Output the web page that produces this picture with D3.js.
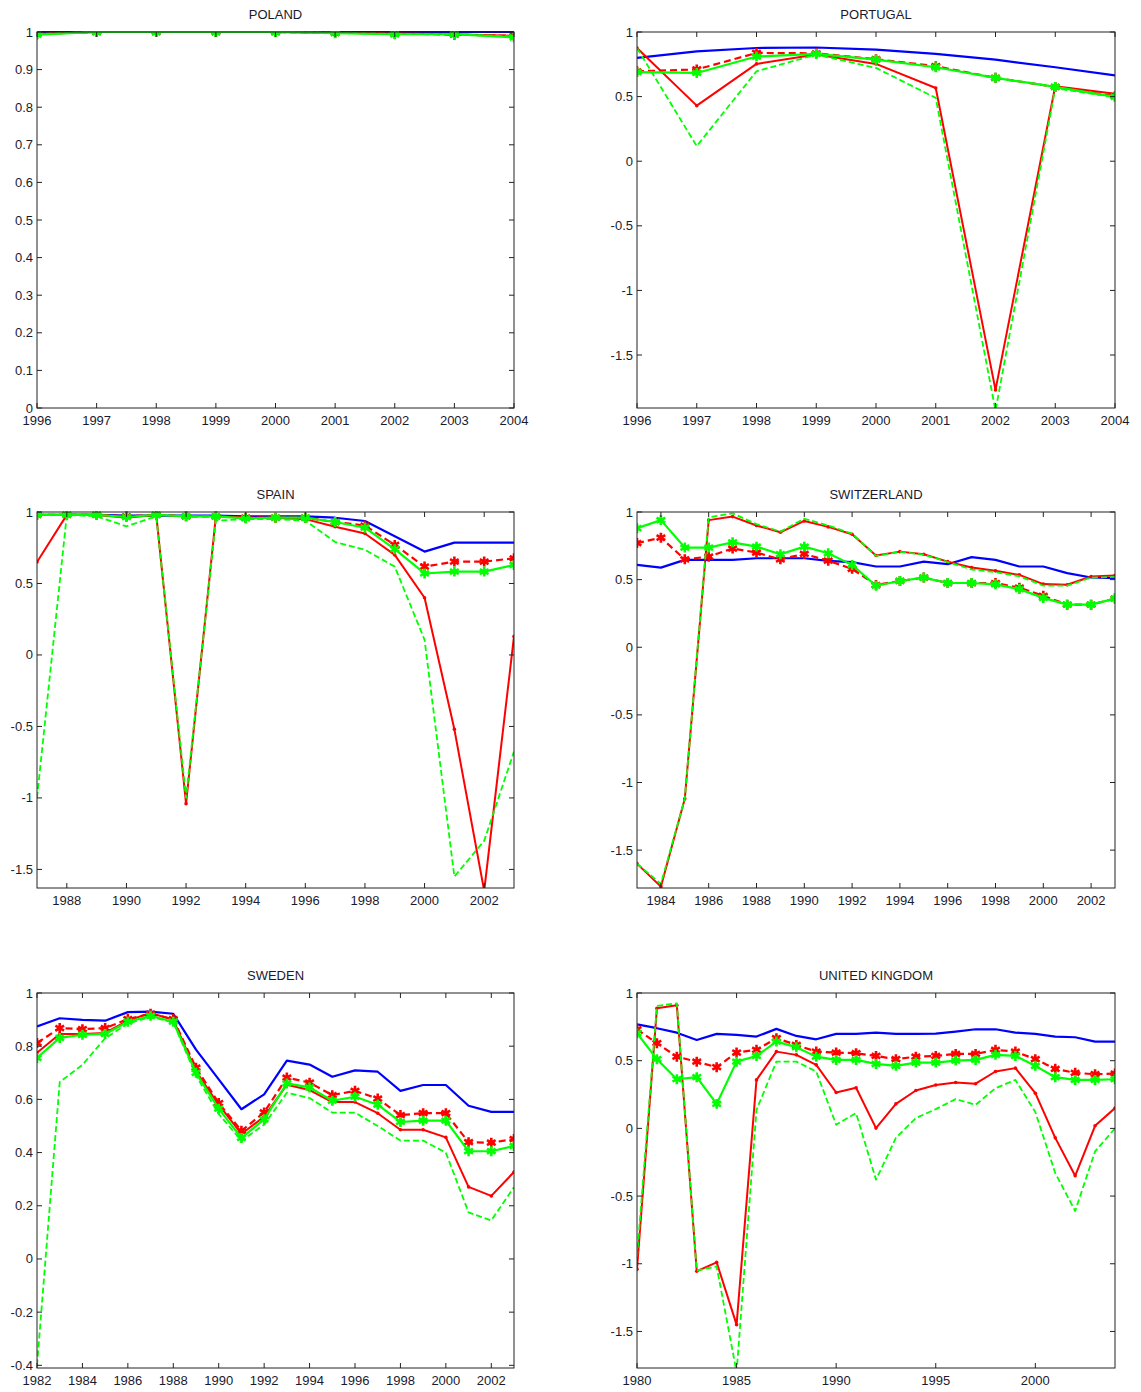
<!DOCTYPE html>
<html>
<head>
<meta charset="utf-8">
<script src="https://cdn.jsdelivr.net/npm/d3@7"></script>
<style>
  body { margin: 0; background: #fff; }
  svg { display: block; font-family: "Liberation Sans", Arial, sans-serif; }
</style>
</head>
<body>
<svg id="chart"></svg>
<script>
// ---- data ----
const polandYears = [1996, 1997, 1998, 1999, 2000, 2001, 2002, 2003, 2004];
const polandBlue = [1, 1, 1, 1, 1, 1, 1, 1, 1];
const polandRed = [0.995, 1, 1, 1, 1, 0.998, 0.996, 0.994, 0.99];
const polandRedStar = [0.995, 1, 1, 1, 1, 0.998, 0.996, 0.993, 0.99];
const polandGreenStar = [0.993, 1, 1, 1, 1, 0.997, 0.994, 0.994, 0.986];
const polandGreenDash = [0.995, 1, 1, 1, 1, 0.998, 0.995, 0.994, 0.988];
const polandYTicks = [0, 0.1, 0.2, 0.3, 0.4, 0.5, 0.6, 0.7, 0.8, 0.9, 1];
const polandXTicks = [1996, 1997, 1998, 1999, 2000, 2001, 2002, 2003, 2004];

const portugalYears = [1996, 1997, 1998, 1999, 2000, 2001, 2002, 2003, 2004];
const portugalBlue = [0.80, 0.85, 0.876, 0.88, 0.863, 0.83, 0.786, 0.727, 0.665];
const portugalRed = [0.876, 0.43, 0.753, 0.825, 0.753, 0.567, -1.77, 0.58, 0.523];
const portugalRedStar = [0.696, 0.71, 0.838, 0.835, 0.79, 0.735, 0.645, 0.575, 0.503];
const portugalGreenStar = [0.69, 0.683, 0.81, 0.83, 0.786, 0.727, 0.645, 0.575, 0.498];
const portugalGreenDash = [0.876, 0.117, 0.696, 0.825, 0.722, 0.49, -1.93, 0.565, 0.495];
const portugalYTicks = [-1.5, -1, -0.5, 0, 0.5, 1];
const portugalXTicks = [1996, 1997, 1998, 1999, 2000, 2001, 2002, 2003, 2004];

const spainYears = [1987, 1988, 1989, 1990, 1991, 1992, 1993, 1994, 1995, 1996, 1997, 1998, 1999, 2000, 2001, 2002, 2003];
const spainBlue = [0.98, 0.98, 0.98, 0.975, 0.975, 0.975, 0.975, 0.97, 0.97, 0.97, 0.96, 0.937, 0.83, 0.723, 0.786, 0.786, 0.786];
const spainRed = [0.65, 0.98, 0.98, 0.96, 0.98, -1.04, 0.97, 0.96, 0.96, 0.95, 0.897, 0.85, 0.70, 0.40, -0.52, -1.65, 0.13];
const spainRedStar = [0.98, 0.98, 0.98, 0.97, 0.98, 0.97, 0.97, 0.96, 0.96, 0.96, 0.93, 0.905, 0.77, 0.618, 0.653, 0.653, 0.676];
const spainGreenStar = [0.98, 0.98, 0.98, 0.965, 0.98, 0.97, 0.97, 0.955, 0.96, 0.96, 0.93, 0.89, 0.74, 0.57, 0.583, 0.583, 0.63];
const spainGreenDash = [-1.0, 0.98, 0.97, 0.9, 0.97, -1.0, 0.94, 0.95, 0.95, 0.94, 0.79, 0.735, 0.618, 0.106, -1.55, -1.30, -0.675];
const spainYTicks = [-1.5, -1, -0.5, 0, 0.5, 1];
const spainXTicks = [1988, 1990, 1992, 1994, 1996, 1998, 2000, 2002];

const swissYears = [1983, 1984, 1985, 1986, 1987, 1988, 1989, 1990, 1991, 1992, 1993, 1994, 1995, 1996, 1997, 1998, 1999, 2000, 2001, 2002, 2003];
const swissBlue = [0.609, 0.589, 0.646, 0.646, 0.646, 0.658, 0.658, 0.658, 0.639, 0.629, 0.597, 0.597, 0.633, 0.614, 0.666, 0.646, 0.597, 0.597, 0.548, 0.516, 0.51];
const swissRed = [-1.6, -1.77, -1.12, 0.94, 0.966, 0.9, 0.85, 0.934, 0.89, 0.835, 0.678, 0.707, 0.688, 0.633, 0.589, 0.565, 0.535, 0.467, 0.462, 0.523, 0.53];
const swissRedStar = [0.77, 0.81, 0.65, 0.67, 0.73, 0.70, 0.65, 0.69, 0.64, 0.58, 0.46, 0.49, 0.515, 0.475, 0.475, 0.475, 0.44, 0.38, 0.315, 0.315, 0.36];
const swissGreenStar = [0.88, 0.94, 0.737, 0.737, 0.776, 0.744, 0.688, 0.744, 0.695, 0.609, 0.455, 0.49, 0.515, 0.475, 0.475, 0.465, 0.43, 0.365, 0.315, 0.315, 0.36];
const swissGreenDash = [-1.6, -1.75, -1.12, 0.96, 0.99, 0.91, 0.855, 0.95, 0.9, 0.84, 0.675, 0.705, 0.685, 0.63, 0.575, 0.555, 0.525, 0.455, 0.455, 0.515, 0.52];
const swissYTicks = [-1.5, -1, -0.5, 0, 0.5, 1];
const swissXTicks = [1984, 1986, 1988, 1990, 1992, 1994, 1996, 1998, 2000, 2002];

const swedenYears = [1982, 1983, 1984, 1985, 1986, 1987, 1988, 1989, 1990, 1991, 1992, 1993, 1994, 1995, 1996, 1997, 1998, 1999, 2000, 2001, 2002, 2003];
const swedenBlue = [0.874, 0.905, 0.899, 0.896, 0.928, 0.93, 0.922, 0.787, 0.675, 0.563, 0.619, 0.746, 0.731, 0.685, 0.709, 0.704, 0.632, 0.654, 0.654, 0.576, 0.553, 0.553];
const swedenRed = [0.775, 0.846, 0.846, 0.85, 0.896, 0.925, 0.899, 0.706, 0.58, 0.47, 0.535, 0.655, 0.635, 0.59, 0.59, 0.548, 0.486, 0.486, 0.457, 0.271, 0.237, 0.327];
const swedenRedStar = [0.812, 0.868, 0.864, 0.868, 0.902, 0.922, 0.902, 0.719, 0.586, 0.482, 0.551, 0.682, 0.663, 0.616, 0.632, 0.603, 0.541, 0.548, 0.548, 0.439, 0.437, 0.451];
const swedenGreenStar = [0.756, 0.831, 0.843, 0.846, 0.892, 0.914, 0.892, 0.70, 0.565, 0.455, 0.525, 0.66, 0.645, 0.595, 0.61, 0.58, 0.515, 0.52, 0.52, 0.405, 0.405, 0.425];
const swedenGreenDash = [-0.4, 0.665, 0.73, 0.83, 0.885, 0.91, 0.89, 0.69, 0.545, 0.445, 0.505, 0.625, 0.605, 0.55, 0.55, 0.50, 0.445, 0.445, 0.40, 0.175, 0.145, 0.27];
const swedenYTicks = [-0.4, -0.2, 0, 0.2, 0.4, 0.6, 0.8, 1];
const swedenXTicks = [1982, 1984, 1986, 1988, 1990, 1992, 1994, 1996, 1998, 2000, 2002];

const ukYears = [1980, 1981, 1982, 1983, 1984, 1985, 1986, 1987, 1988, 1989, 1990, 1991, 1992, 1993, 1994, 1995, 1996, 1997, 1998, 1999, 2000, 2001, 2002, 2003, 2004];
const ukBlue = [0.769, 0.74, 0.707, 0.653, 0.698, 0.69, 0.678, 0.735, 0.683, 0.658, 0.698, 0.698, 0.707, 0.698, 0.698, 0.70, 0.715, 0.732, 0.732, 0.707, 0.698, 0.678, 0.673, 0.641, 0.641];
const ukRed = [-1.04, 0.887, 0.91, -1.055, -0.99, -1.45, 0.358, 0.567, 0.543, 0.469, 0.265, 0.30, 0.002, 0.181, 0.28, 0.32, 0.339, 0.33, 0.42, 0.445, 0.26, -0.07, -0.35, 0.019, 0.15];
const ukRedStar = [0.732, 0.629, 0.53, 0.493, 0.452, 0.56, 0.58, 0.666, 0.616, 0.567, 0.56, 0.555, 0.535, 0.511, 0.53, 0.535, 0.55, 0.55, 0.58, 0.567, 0.511, 0.44, 0.41, 0.40, 0.405];
const ukGreenStar = [0.703, 0.511, 0.363, 0.378, 0.181, 0.493, 0.535, 0.641, 0.60, 0.53, 0.506, 0.506, 0.476, 0.462, 0.486, 0.486, 0.501, 0.506, 0.543, 0.535, 0.462, 0.378, 0.358, 0.358, 0.363];
const ukGreenDash = [-0.95, 0.904, 0.924, -1.05, -1.02, -1.8, 0.137, 0.493, 0.493, 0.42, 0.027, 0.113, -0.379, -0.07, 0.076, 0.142, 0.216, 0.174, 0.297, 0.358, 0.12, -0.33, -0.61, -0.17, 0.0];
const ukYTicks = [-1.5, -1, -0.5, 0, 0.5, 1];
const ukXTicks = [1980, 1985, 1990, 1995, 2000];

// ---- layout ----
const W = 1141, H = 1392;
const svg = d3.select("#chart").attr("width", W).attr("height", H);

const panels = [
  {title: "POLAND", years: polandYears, yDom: [0, 1], xTicks: polandXTicks, yTicks: polandYTicks,
   s: [polandBlue, polandRed, polandRedStar, polandGreenStar, polandGreenDash], x0: 37, x1: 514, y0: 32, y1: 408},
  {title: "PORTUGAL", years: portugalYears, yDom: [-1.91, 1], xTicks: portugalXTicks, yTicks: portugalYTicks,
   s: [portugalBlue, portugalRed, portugalRedStar, portugalGreenStar, portugalGreenDash], x0: 637, x1: 1115, y0: 32, y1: 408},
  {title: "SPAIN", years: spainYears, yDom: [-1.63, 1], xTicks: spainXTicks, yTicks: spainYTicks,
   s: [spainBlue, spainRed, spainRedStar, spainGreenStar, spainGreenDash], x0: 37, x1: 514, y0: 512, y1: 888},
  {title: "SWITZERLAND", years: swissYears, yDom: [-1.78, 1], xTicks: swissXTicks, yTicks: swissYTicks,
   s: [swissBlue, swissRed, swissRedStar, swissGreenStar, swissGreenDash], x0: 637, x1: 1115, y0: 512, y1: 888},
  {title: "SWEDEN", years: swedenYears, yDom: [-0.41, 1], xTicks: swedenXTicks, yTicks: swedenYTicks,
   s: [swedenBlue, swedenRed, swedenRedStar, swedenGreenStar, swedenGreenDash], x0: 37, x1: 514, y0: 993, y1: 1368},
  {title: "UNITED KINGDOM", years: ukYears, yDom: [-1.77, 1], xTicks: ukXTicks, yTicks: ukYTicks,
   s: [ukBlue, ukRed, ukRedStar, ukGreenStar, ukGreenDash], x0: 637, x1: 1115, y0: 993, y1: 1368}
];

// blue, red (dots), red dashed (stars), green (stars), green dashed
const styles = [
  {color: "#0000ff", width: 2.2, dash: null, marker: null},
  {color: "#ff0000", width: 2, dash: null, marker: "dot"},
  {color: "#ff0000", width: 2.2, dash: "7,4", marker: "star"},
  {color: "#00ff00", width: 2.2, dash: null, marker: "star"},
  {color: "#00ff00", width: 1.8, dash: "6,3", marker: null}
];

const fmt = v => String(Math.round(v * 10) / 10);

panels.forEach((p, pi) => {
  const x = d3.scaleLinear().domain(d3.extent(p.years)).range([p.x0, p.x1]);
  const y = d3.scaleLinear().domain(p.yDom).range([p.y1, p.y0]);
  const g = svg.append("g");

  g.append("clipPath").attr("id", "clip" + pi)
    .append("rect").attr("x", p.x0).attr("y", p.y0 - 1)
    .attr("width", p.x1 - p.x0).attr("height", p.y1 - p.y0 + 1);

  // series
  const plot = g.append("g").attr("clip-path", `url(#clip${pi})`);
  const line = d3.line().x((d, i) => x(p.years[i])).y(d => y(d));
  p.s.forEach((vals, si) => {
    const st = styles[si];
    plot.append("path")
      .attr("d", line(vals))
      .attr("fill", "none")
      .attr("stroke", st.color)
      .attr("stroke-width", st.width)
      .attr("stroke-linejoin", "round")
      .attr("stroke-dasharray", st.dash);
    if (st.marker == "dot") {
      plot.selectAll(null).data(vals).enter().append("circle")
        .attr("cx", (d, i) => x(p.years[i])).attr("cy", d => y(d))
        .attr("r", 1.8).attr("fill", st.color);
    } else if (st.marker == "star") {
      plot.selectAll(null).data(vals).enter().append("path")
        .attr("transform", (d, i) => `translate(${x(p.years[i])},${y(d)})`)
        .attr("d", d3.symbol().type(d3.symbolAsterisk).size(70)())
        .attr("fill", "none").attr("stroke", st.color).attr("stroke-width", 2.6);
    }
  });

  // box
  g.append("rect").attr("x", p.x0).attr("y", p.y0)
    .attr("width", p.x1 - p.x0).attr("height", p.y1 - p.y0)
    .attr("fill", "none").attr("stroke", "#222").attr("stroke-width", 1);

  // ticks (inside, mirrored)
  const tk = 5;
  p.xTicks.forEach(t => {
    const xx = x(t);
    g.append("line").attr("x1", xx).attr("x2", xx).attr("y1", p.y1).attr("y2", p.y1 - tk).attr("stroke", "#222");
    g.append("line").attr("x1", xx).attr("x2", xx).attr("y1", p.y0).attr("y2", p.y0 + tk).attr("stroke", "#222");
    g.append("text").attr("x", xx).attr("y", p.y1 + 17)
      .attr("text-anchor", "middle").attr("font-size", 13).attr("fill", "#1a1a2e")
      .text(t);
  });
  p.yTicks.forEach(t => {
    const yy = y(t);
    g.append("line").attr("x1", p.x0).attr("x2", p.x0 + tk).attr("y1", yy).attr("y2", yy).attr("stroke", "#222");
    g.append("line").attr("x1", p.x1).attr("x2", p.x1 - tk).attr("y1", yy).attr("y2", yy).attr("stroke", "#222");
    g.append("text").attr("x", p.x0 - 4).attr("y", yy + 4.5)
      .attr("text-anchor", "end").attr("font-size", 13).attr("fill", "#1a1a2e")
      .text(fmt(t));
  });

  g.append("text").attr("x", (p.x0 + p.x1) / 2).attr("y", p.y0 - 13)
    .attr("text-anchor", "middle").attr("font-size", 13).attr("fill", "#1a1a2e")
    .text(p.title);
});
</script>
</body>
</html>
